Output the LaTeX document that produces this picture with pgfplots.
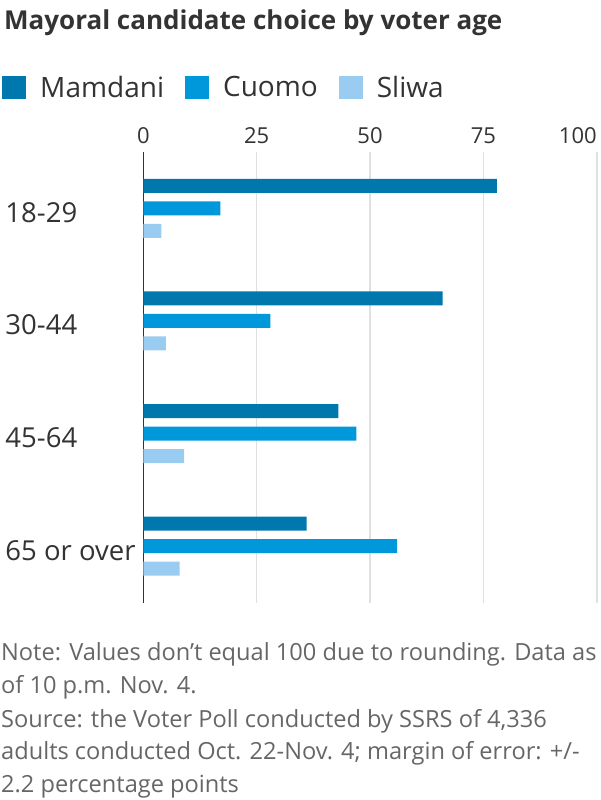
\documentclass[border=0pt]{standalone}
\usepackage{pgfplots}
\pgfplotsset{compat=1.18}
\usepackage{fontspec}
\setmainfont{Open Sans}
\definecolor{cMam}{HTML}{0078AD}
\definecolor{cCuo}{HTML}{0098DA}
\definecolor{cSli}{HTML}{99CCF0}
\definecolor{txt}{HTML}{333333}
\definecolor{note}{HTML}{666666}
\definecolor{gridc}{HTML}{E0E0E0}
\begin{document}
\begin{tikzpicture}
\path[use as bounding box] (0,0) rectangle (600pt,800pt);
\begin{axis}[
  at={(143.3pt,197.5pt)}, anchor=south west,
  scale only axis, width=453.4pt, height=450.5pt,
  xmin=0, xmax=100, ymin=-0.5, ymax=3.5, y dir=reverse,
  axis line style={draw=none},
  xbar, bar width=14pt,
  xtick={25,50,75,100},
  xticklabels={25,50,75,\makebox[0pt][r]{100}},
  extra x ticks={0}, extra x tick labels={0},
  extra x tick style={grid style={color=txt, line width=1.6pt}},
  xticklabel pos=top,
  xmajorgrids, grid style={color=gridc, line width=1.6pt},
  major tick length=0pt,
  xticklabel style={anchor=base, yshift=9pt, inner sep=0pt, font=\fontsize{22pt}{26pt}\selectfont, text=txt},
  ytick={0,1,2,3},
  yticklabels={18-29,30-44,45-64,65 or over},
  yticklabel style={anchor=base west, xshift=-138pt, yshift=-14pt, inner sep=0pt, font=\fontsize{27.5pt}{32pt}\selectfont, text=txt},
  legend columns=3,
  legend style={at={(-0.3116,1.1432)}, anchor=west, draw=none, fill=none, inner sep=0pt,
    font=\fontsize{28pt}{32pt}\selectfont, text=txt,
    /tikz/column sep=14pt,
    /tikz/every even column/.append style={column sep=21pt},
    nodes={inner sep=0pt}},
  legend image code/.code={\fill[#1] (0pt,-11.5pt) rectangle (24pt,11.5pt);},
]
\addplot[fill=cMam, draw=none, bar shift=22.5pt] coordinates {(78,0) (66,1) (43,2) (36,3)};
\addplot[fill=cCuo, draw=none, bar shift=0pt] coordinates {(17,0) (28,1) (47,2) (56,3)};
\addplot[fill=cSli, draw=none, bar shift=-22.5pt] coordinates {(4,0) (5,1) (9,2) (8,3)};
\legend{Mamdani,Cuomo,Sliwa}
\end{axis}
\node[anchor=base west, inner sep=0pt, text=txt, font=\bfseries\fontsize{26pt}{30pt}\selectfont] at (4pt,770.5pt) {Mayoral candidate choice by voter age};
\begin{scope}[every node/.style={anchor=base west, inner sep=0pt, text=note, font=\fontsize{23.6pt}{28pt}\selectfont}]
\node at (1pt,139pt) {Note: Values don’t equal 100 due to rounding. Data as};
\node at (1pt,106pt) {of 10 p.m. Nov. 4.};
\node at (1pt,72pt) {Source: the Voter Poll conducted by SSRS of 4,336};
\node at (1pt,40pt) {adults conducted Oct. 22-Nov. 4; margin of error: +/-};
\node at (1pt,7pt) {2.2 percentage points};
\end{scope}
\end{tikzpicture}
\end{document}
